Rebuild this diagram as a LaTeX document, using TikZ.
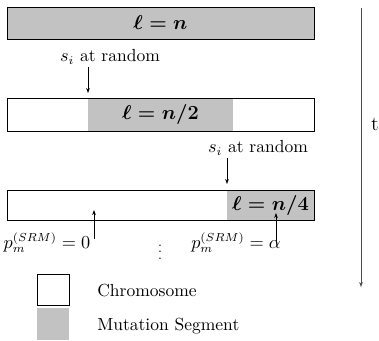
\documentclass[tikz,border=0pt]{standalone}
\usetikzlibrary{arrows.meta}
\begin{document}
\begin{tikzpicture}[x=0.6pt,y=-0.6pt,
  seg/.style={fill=black!24},
  bar/.style={draw=black, line width=0.6pt},
  arr/.style={-{Stealth[length=3pt,width=2.2pt]}, line width=0.4pt},
  lbl/.style={inner sep=0pt, font=\fontsize{10.5}{12}\selectfont},
  big/.style={inner sep=0pt, font=\large\boldmath}]
\useasboundingbox (0,0) rectangle (379,340);
% bar 1
\fill[seg] (7,7) rectangle (314,39);
\draw[bar] (7,7) rectangle (314,39);
\node[big] (l1) at (160.5,23) {$\ell=n$};
% label 1
\node[lbl] (s1) at (110,57) {$s_i$ at random};
\coordinate (s1e) at (88,93);
\draw[arr] (88,67) -- (s1e);
% bar 2
\fill[seg] (88,98) rectangle (233,131);
\draw[bar] (7,98) rectangle (314,131);
\node[big] (l2) at (160.5,114) {$\ell=n/2$};
% label 2
\node[lbl] (s2) at (258,148) {$s_i$ at random};
\coordinate (s2e) at (227,184);
\draw[arr] (227,158) -- (s2e);
% bar 3
\fill[seg] (227,190) rectangle (314,220);
\draw[bar] (7,190) rectangle (314,220);
\node[big] (l3) at (270.5,205) {$\ell=n/4$};
% bottom labels
\node[lbl] (p0) at (47,243) {$p_m^{(SRM)}=0$};
\node[lbl] (pa) at (236,243) {$p_m^{(SRM)}=\alpha$};
\node[inner sep=0pt, font=\footnotesize] (vd) at (160,247) {$\vdots$};
\coordinate (p0s) at (94,239);
\coordinate (p0e) at (94,210);
\coordinate (pas) at (276,242);
\coordinate (pae) at (276,213);
\draw[arr] (p0s) -- (p0e);
\draw[arr] (pas) -- (pae);
% time axis
\coordinate (t0) at (361,8);
\coordinate (t1) at (361,287);
\draw[arr, draw=black!70] (t0) -- (t1);
\node[inner sep=0pt, font=\fontsize{12}{14}\selectfont] (tl) at (375,124) {t};
% legend
\draw[line width=0.6pt] (37,274) rectangle (69,305);
\fill[seg] (37,308) rectangle (69,340);
\node[lbl, anchor=west] (lc) at (97,291) {Chromosome};
\node[lbl, anchor=west] (lm) at (97,326) {Mutation Segment};
\end{tikzpicture}
\end{document}
